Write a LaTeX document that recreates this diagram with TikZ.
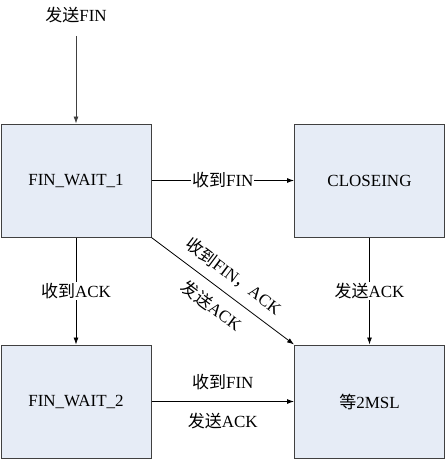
\documentclass[tikz,border=0pt]{standalone}
\usepackage{fontspec}
\setmainfont{Liberation Serif}
\newfontfamily\cjk{Noto Sans CJK SC}
\usetikzlibrary{arrows.meta}
\definecolor{boxfill}{RGB}{230,236,246}
\definecolor{boxline}{RGB}{64,64,64}
\begin{document}
\begin{tikzpicture}[x=1pt,y=-1pt,
  state/.style={draw=boxline, fill=boxfill, line width=1pt, minimum width=150pt, minimum height=113pt, inner sep=0pt, font=\fontsize{17}{20}\selectfont},
  arr/.style={-{Latex[length=7pt,width=5pt]}, line width=0.8pt},
  txt/.style={font=\fontsize{17}{20}\selectfont, inner sep=1pt},
  lbl/.style={txt, fill=white}]
\useasboundingbox (0,0) rectangle (446,460);
\node[state] (fw1) at (76,180.5) {FIN\_WAIT\_1};
\node[state] (cl)  at (369.5,180.5) {CLOSEING};
\node[state] (fw2) at (76,401.5) {FIN\_WAIT\_2};
\node[state] (msl) at (369.5,401.5) {{\cjk 等}2MSL};
\node[txt] (start) at (76,15) {{\cjk 发送}FIN};
\coordinate (s) at (76,36);
\draw[arr, draw=boxline] (s) -- (fw1.north);
\draw[arr] (fw1) -- node[lbl] {{\cjk 收到}FIN} (cl);
\draw[arr] (fw1) -- node[lbl] {{\cjk 收到}ACK} (fw2);
\draw[arr] (cl) -- node[lbl] {{\cjk 发送}ACK} (msl);
\draw[arr] (fw1.south east) -- node[txt, sloped, above=9pt] {{\cjk 收到}FIN{\cjk ，}ACK} node[txt, sloped, below=9pt] {{\cjk 发送}ACK} (msl.north west);
\draw[arr] (fw2) -- node[txt, above=10pt] {{\cjk 收到}FIN} node[txt, below=10pt] {{\cjk 发送}ACK} (msl);
\end{tikzpicture}
\end{document}
